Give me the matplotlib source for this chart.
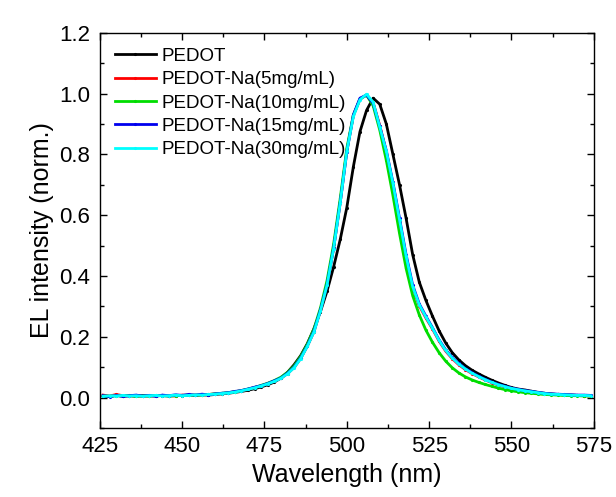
import matplotlib

matplotlib.use("Agg")
import matplotlib.pyplot as plt
import numpy as np
from matplotlib.ticker import MultipleLocator

plt.rcParams["font.family"] = ["Liberation Sans", "DejaVu Sans"]

wavelength = np.arange(426, 575, 2)

pedot = [
    0.006, 0.004, 0.007, 0.005, 0.006, 0.004, 0.006, 0.005, 0.007, 0.006,
    0.005, 0.007, 0.006, 0.008, 0.007, 0.009, 0.008, 0.010, 0.012,
    0.014, 0.017, 0.020, 0.024, 0.029, 0.035, 0.042, 0.051,
    0.064, 0.083, 0.108, 0.138, 0.177, 0.226, 0.283, 0.350, 0.430, 0.520,
    0.625, 0.760, 0.875, 0.945, 0.985, 0.965, 0.900, 0.800, 0.700, 0.590,
    0.470, 0.380, 0.320, 0.268, 0.220, 0.180, 0.148, 0.124, 0.105, 0.090,
    0.078, 0.067, 0.057, 0.048, 0.040, 0.033, 0.028, 0.025, 0.021, 0.017,
    0.014, 0.012, 0.010, 0.009, 0.008, 0.007, 0.006, 0.006,
]
na_5 = [
    0.008, 0.005, 0.010, 0.006, 0.005, 0.007, 0.004, 0.006, 0.005, 0.007,
    0.006, 0.005, 0.008, 0.007, 0.009, 0.008, 0.010, 0.012, 0.013,
    0.015, 0.019, 0.022, 0.027, 0.033, 0.038, 0.046, 0.054,
    0.064, 0.079, 0.099, 0.129, 0.169, 0.216, 0.287, 0.372, 0.492, 0.642,
    0.812, 0.928, 0.982, 0.996, 0.970, 0.895, 0.808, 0.702, 0.582, 0.462,
    0.362, 0.302, 0.262, 0.226, 0.186, 0.153, 0.128, 0.108, 0.092, 0.079,
    0.068, 0.058, 0.049, 0.041, 0.035, 0.030, 0.025, 0.021, 0.018, 0.015,
    0.013, 0.011, 0.010, 0.009, 0.008, 0.007, 0.006, 0.006,
]
na_10 = [
    0.005, 0.004, 0.006, 0.005, 0.007, 0.004, 0.006, 0.005, 0.006, 0.007,
    0.005, 0.006, 0.007, 0.008, 0.007, 0.009, 0.010, 0.012, 0.014,
    0.016, 0.019, 0.023, 0.028, 0.033, 0.040, 0.047, 0.056,
    0.067, 0.083, 0.104, 0.135, 0.175, 0.225, 0.295, 0.385, 0.505, 0.655,
    0.820, 0.930, 0.982, 0.995, 0.960, 0.880, 0.780, 0.665, 0.540, 0.425,
    0.335, 0.272, 0.222, 0.182, 0.148, 0.120, 0.098, 0.081, 0.068, 0.058,
    0.050, 0.043, 0.037, 0.031, 0.026, 0.022, 0.019, 0.016, 0.014, 0.012,
    0.010, 0.009, 0.008, 0.007, 0.006, 0.006, 0.005, 0.005,
]
na_15 = [
    0.006, 0.003, 0.007, 0.004, 0.006, 0.008, 0.005, 0.007, 0.004, 0.008,
    0.006, 0.009, 0.007, 0.010, 0.008, 0.011, 0.009, 0.012, 0.014,
    0.016, 0.020, 0.023, 0.028, 0.034, 0.039, 0.046, 0.055,
    0.064, 0.080, 0.100, 0.130, 0.170, 0.218, 0.288, 0.372, 0.492, 0.642,
    0.808, 0.930, 0.985, 0.995, 0.968, 0.892, 0.812, 0.708, 0.590, 0.470,
    0.370, 0.308, 0.268, 0.230, 0.190, 0.157, 0.132, 0.112, 0.095, 0.082,
    0.070, 0.060, 0.051, 0.043, 0.037, 0.031, 0.027, 0.023, 0.020, 0.017,
    0.014, 0.012, 0.011, 0.010, 0.009, 0.008, 0.008, 0.007,
]
na_30 = [
    0.004, 0.006, 0.005, 0.007, 0.005, 0.006, 0.004, 0.006, 0.007, 0.005,
    0.006, 0.008, 0.006, 0.007, 0.009, 0.008, 0.010, 0.011, 0.013,
    0.015, 0.018, 0.022, 0.027, 0.032, 0.038, 0.045, 0.053,
    0.063, 0.078, 0.098, 0.128, 0.168, 0.215, 0.285, 0.370, 0.490, 0.640,
    0.810, 0.925, 0.980, 0.998, 0.972, 0.890, 0.810, 0.705, 0.585, 0.465,
    0.365, 0.305, 0.265, 0.228, 0.188, 0.155, 0.130, 0.110, 0.094, 0.080,
    0.069, 0.059, 0.050, 0.042, 0.036, 0.030, 0.026, 0.022, 0.019, 0.016,
    0.013, 0.011, 0.010, 0.009, 0.008, 0.007, 0.007, 0.006,
]

labels = [
    "PEDOT",
    "PEDOT-Na(5mg/mL)",
    "PEDOT-Na(10mg/mL)",
    "PEDOT-Na(15mg/mL)",
    "PEDOT-Na(30mg/mL)",
]
colors = ["#000000", "#ff0000", "#00dd00", "#0000ee", "#00ffff"]

figure = plt.figure(figsize=(6.16, 4.97), dpi=100)
axis = figure.add_axes([0.162, 0.139, 0.802, 0.795])

for values, label, color in zip([pedot, na_5, na_10, na_15, na_30], labels, colors):
    axis.plot(
        wavelength,
        values,
        color=color,
        linewidth=2.0,
        marker=".",
        markersize=2.5,
        label=label,
    )

axis.set_xlim(425, 575)
axis.set_ylim(-0.1, 1.2)
axis.xaxis.set_major_locator(MultipleLocator(25))
axis.xaxis.set_minor_locator(MultipleLocator(12.5))
axis.yaxis.set_major_locator(MultipleLocator(0.2))
axis.yaxis.set_minor_locator(MultipleLocator(0.1))
axis.yaxis.set_major_formatter(plt.FormatStrFormatter("%.1f"))

axis.tick_params(which="both", direction="in", top=True, right=True, width=1.0)
axis.tick_params(which="major", length=5, labelsize=16)
axis.tick_params(which="minor", length=3)
axis.tick_params(axis="x", pad=6)
axis.tick_params(axis="y", pad=7)
for spine in axis.spines.values():
    spine.set_linewidth(1.0)

axis.set_xlabel("Wavelength (nm)", fontsize=18, labelpad=4)
axis.set_ylabel("EL intensity (norm.)", fontsize=18, labelpad=4)

axis.legend(
    loc="upper left",
    frameon=False,
    fontsize=13.5,
    handlelength=2.2,
    handletextpad=0.3,
    labelspacing=0.33,
    borderaxespad=0.4,
)

figure.savefig("out.png", dpi=100)
